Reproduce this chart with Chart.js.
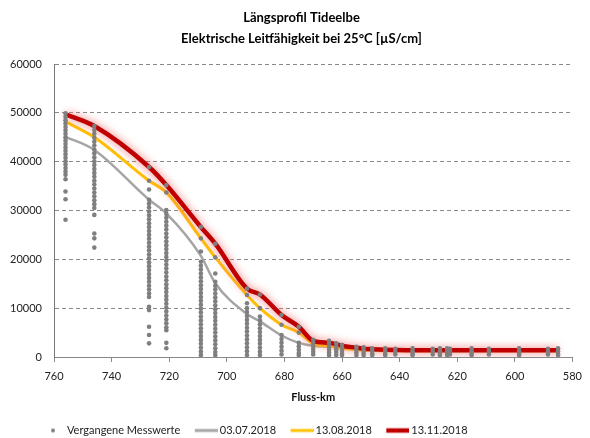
<!DOCTYPE html>
<html>
<head>
<meta charset="utf-8">
<script src="https://cdn.jsdelivr.net/npm/chart.js@4"></script>
<style>
  html, body { margin: 0; padding: 0; background: #fff; }
  canvas { display: block; }
</style>
</head>
<body>
<canvas id="chart" width="590" height="438"></canvas>
<script>
// Elbe-km of the measuring stations
const kmStations = [756, 746, 727, 721, 709, 704, 693, 688.5, 681, 675, 670, 664.5, 662, 660, 655, 652.5, 649.5, 645, 641.5, 635.5, 628.5, 626, 623.5, 622.5, 615, 609, 598.5, 588.5, 585];

// conductivity profiles (µS/cm)
const values0307 = [45100, 42400, 32200, 29400, 20700, 15100, 8800, 7300, 4400, 2900, 2300, 2100, 2000, 1900, 1600, 1500, 1400, 1300, 1300, 1300, 1300, 1300, 1300, 1300, 1300, 1300, 1300, 1300, 1300];
const values1308 = [48200, 45000, 36100, 33700, 24300, 20400, 12700, 10000, 6600, 5000, 2700, 2200, 2000, 1800, 1500, 1400, 1350, 1300, 1300, 1300, 1300, 1300, 1300, 1300, 1300, 1300, 1300, 1300, 1300];
const values1311 = [49700, 47300, 38900, 35200, 26600, 23200, 14000, 12800, 8600, 6200, 3300, 2900, 2600, 2300, 1900, 1700, 1600, 1500, 1450, 1400, 1400, 1400, 1400, 1400, 1400, 1400, 1400, 1400, 1400];

// past measurements per station (same order as kmStations)
const pastValues = [
  [49900, 49200, 48500, 47800, 47100, 46400, 45700, 45000, 44300, 43600, 42900, 42200, 41500, 40800, 40100, 39400, 38700, 38000, 37300, 36400, 33900, 32300, 28100],
  [47300, 46500, 45700, 44900, 44100, 43300, 42500, 41700, 40900, 40100, 39300, 38500, 37700, 36900, 36100, 35300, 34500, 33700, 32900, 32100, 31300, 30500, 29100, 25300, 24300, 22400],
  [38900, 36100, 34300, 32200, 31400, 30600, 29800, 29000, 28200, 27400, 26600, 25800, 25000, 24200, 23400, 22600, 21800, 21000, 20200, 19400, 18600, 17800, 17000, 16200, 15400, 14600, 13800, 13000, 12300, 10300, 9600, 6200, 4500, 2800],
  [35200, 33700, 30100, 29300, 28500, 27700, 26900, 26100, 25300, 24500, 23700, 22900, 22100, 21300, 20500, 19700, 18900, 18100, 17300, 16500, 15700, 14900, 14100, 13300, 12500, 11700, 10900, 10100, 9300, 8500, 7700, 6900, 6100, 5500, 2900, 1800],
  [26600, 24300, 21600, 19500, 18700, 17900, 17100, 16300, 15500, 14700, 13900, 13100, 12300, 11500, 10700, 9900, 9100, 8300, 7500, 6700, 5900, 5100, 4300, 3500, 2700, 1900, 1100, 400],
  [23200, 20400, 17100, 15400, 14600, 13800, 13000, 12200, 11400, 10600, 9800, 9000, 8200, 7400, 6600, 5800, 5000, 4200, 3400, 2600, 1800, 1000, 400],
  [14000, 12700, 11000, 10000, 9200, 8400, 7600, 6800, 6000, 5200, 4400, 3600, 2800, 2000, 1200, 400],
  [12800, 10000, 8300, 7500, 6700, 5900, 5100, 4300, 3500, 2700, 1900, 1100, 400],
  [8600, 6600, 4500, 3700, 2900, 2100, 1300, 500],
  [6200, 5000, 2900, 2200, 1500, 800, 400],
  [3500, 2900, 2300, 1700, 1100, 500],
  [3300, 2700, 2100, 1500, 900, 400],
  [2800, 2200, 1600, 1000, 400],
  [2500, 1900, 1300, 700, 400],
  [2100, 1500, 900, 400],
  [2000, 1400, 800, 400],
  [1800, 1200, 600, 400],
  [1800, 1200, 600, 400],
  [1700, 1100, 500],
  [1800, 1200, 600, 400],
  [1700, 1100, 500],
  [1800, 1200, 600, 400],
  [1800, 1200, 600, 400],
  [1700, 1100, 500],
  [1800, 1200, 600, 400],
  [1700, 1100, 500],
  [1800, 1200, 600, 400],
  [1700, 1100, 500],
  [1800, 1200, 600, 400]
];

const seriesLabels = ["Vergangene Messwerte", "03.07.2018", "13.08.2018", "13.11.2018"];
const titleLines = ["Längsprofil Tideelbe", "Elektrische Leitfähigkeit bei 25°C [µS/cm]"];
const xTitle = "Fluss-km";

const FONT = "Lato, 'Open Sans', sans-serif";
const GREY = "#A5A5A5", ORANGE = "#FFC000", RED = "#C00000", DOT = "#7F7F7F";

const toPoints = (vals) => kmStations.map((km, i) => ({ x: km, y: vals[i] }));
const pastPoints = kmStations.flatMap((km, i) => pastValues[i].map((v) => ({ x: km, y: v })));

// small legend icons
const ICON_W = 37;
function lineIcon(color, width) {
  const c = document.createElement("canvas");
  c.width = ICON_W; c.height = 8;
  const g = c.getContext("2d");
  g.strokeStyle = color; g.lineWidth = width;
  g.beginPath(); g.moveTo(ICON_W - 23, 4); g.lineTo(ICON_W, 4); g.stroke();
  return c;
}
function dotIcon() {
  const c = document.createElement("canvas");
  c.width = ICON_W; c.height = 8;
  const g = c.getContext("2d");
  g.fillStyle = DOT;
  g.beginPath(); g.arc(25, 4, 2, 0, Math.PI * 2); g.fill();
  return c;
}
const legendIcons = [dotIcon(), lineIcon(GREY, 3), lineIcon(ORANGE, 3), lineIcon(RED, 4.5)];

// pink glow around the red line
const glowPlugin = {
  id: "glow",
  beforeDatasetDraw(chart, args) {
    if (args.index !== 3) return;
    chart.ctx.save();
    chart.ctx.shadowColor = "rgba(240,110,110,1)";
    chart.ctx.shadowBlur = 8;
  },
  afterDatasetDraw(chart, args) {
    if (args.index !== 3) return;
    chart.ctx.restore();
  }
};

// nudge legend and title to where the original has them
const placePlugin = {
  id: "place",
  afterLayout(chart) {
    const l = chart.legend;
    l.left -= 45; l.right -= 45; l.top += 8; l.bottom += 8;
    const t = chart.titleBlock;
    t.left += 7; t.right += 7;
  }
};

new Chart(document.getElementById("chart"), {
  type: "line",
  data: {
    datasets: [
      {
        label: seriesLabels[0],
        data: pastPoints,
        showLine: false,
        pointRadius: 2.3,
        pointBackgroundColor: DOT,
        pointBorderWidth: 0,
        order: 0
      },
      {
        label: seriesLabels[1],
        data: toPoints(values0307),
        borderColor: GREY,
        borderWidth: 2.5,
        pointRadius: 0,
        cubicInterpolationMode: "monotone",
        order: 3
      },
      {
        label: seriesLabels[2],
        data: toPoints(values1308),
        borderColor: ORANGE,
        borderWidth: 3,
        pointRadius: 0,
        cubicInterpolationMode: "monotone",
        order: 2
      },
      {
        label: seriesLabels[3],
        data: toPoints(values1311),
        borderColor: RED,
        borderWidth: 4.5,
        pointRadius: 0,
        cubicInterpolationMode: "monotone",
        order: 1
      }
    ]
  },
  options: {
    responsive: false,
    animation: false,
    layout: { padding: { left: 10, right: 11, top: 0, bottom: 0 } },
    scales: {
      x: {
        type: "linear",
        reverse: true,
        min: 580,
        max: 760,
        afterFit: (s) => { s.height = 56; },
        ticks: { stepSize: 20, padding: 8, color: "#222", font: { family: FONT, size: 11 } },
        grid: { drawOnChartArea: false, drawTicks: true, tickLength: 5, tickColor: "#888" },
        border: { color: "#888", width: 1 },
        title: {
          display: true,
          text: xTitle,
          color: "#111",
          font: { family: FONT, size: 11, weight: "bold" },
          padding: { top: 0, bottom: 9 }
        }
      },
      y: {
        min: 0,
        max: 60000,
        afterFit: (s) => { s.width = 44; },
        ticks: {
          stepSize: 10000,
          padding: 12,
          color: "#222",
          font: { family: FONT, size: 11 },
          callback: (v) => String(v)
        },
        grid: { color: "#8a8a8a", lineWidth: 1, drawTicks: false },
        border: { color: "#777", width: 1, dash: [4, 3] }
      }
    },
    plugins: {
      title: {
        display: true,
        text: titleLines,
        color: "#000",
        font: { family: FONT, size: 13, weight: "bold", lineHeight: 1.6 },
        padding: { top: 7.6, bottom: 14.8 }
      },
      legend: {
        position: "bottom",
        labels: {
          usePointStyle: true,
          pointStyleWidth: 30,
          padding: 4,
          color: "#222",
          font: { family: FONT, size: 11 },
          sort: (a, b) => a.datasetIndex - b.datasetIndex,
          generateLabels: (chart) => chart.data.datasets.map((ds, i) => ({
            text: ds.label,
            datasetIndex: i,
            pointStyle: legendIcons[i],
            hidden: false,
            lineWidth: 0,
            fontColor: "#222"
          }))
        }
      },
      tooltip: { enabled: false }
    }
  },
  plugins: [glowPlugin, placePlugin]
});
</script>
</body>
</html>
